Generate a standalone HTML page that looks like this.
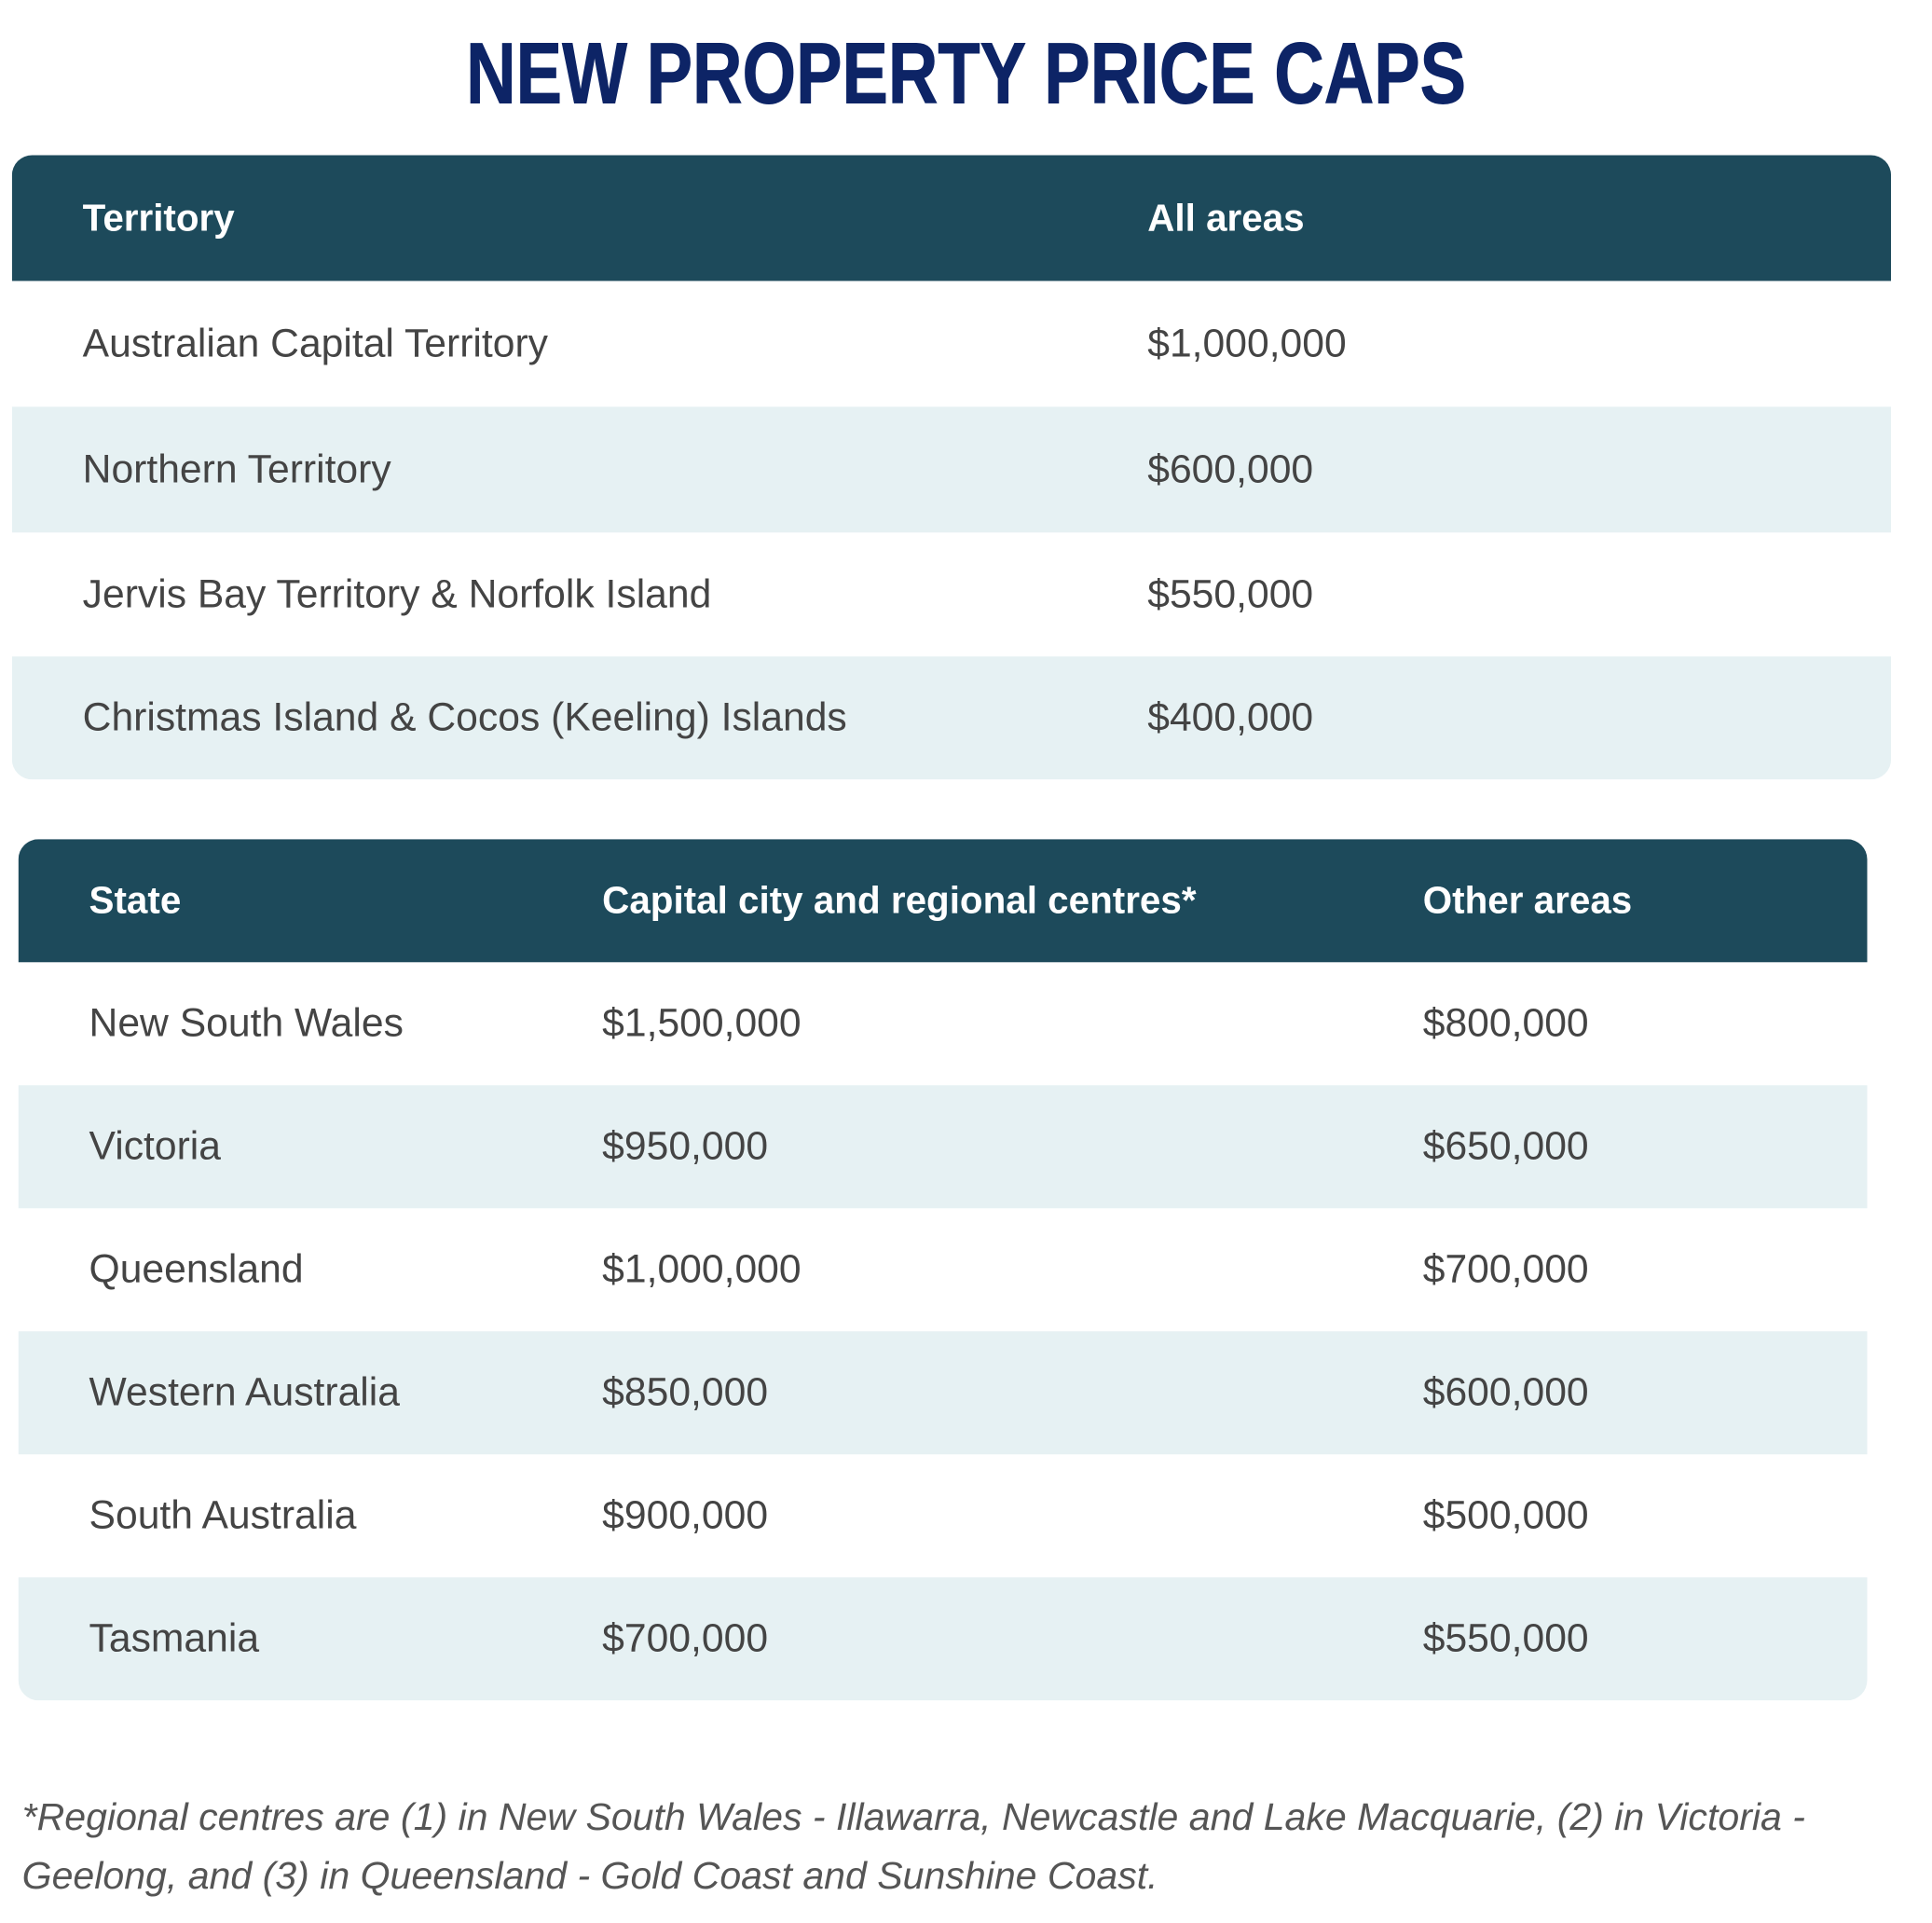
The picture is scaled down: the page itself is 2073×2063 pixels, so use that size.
<!DOCTYPE html>
<html><head><meta charset="utf-8"><style>
body{margin:0;width:2073px;height:2062px;background:#fff;position:relative;font-family:"Liberation Sans",sans-serif;overflow:hidden}
#w{position:absolute;left:0;top:0;width:2105px;height:2094px;transform:scale(0.985);transform-origin:0 0}
.title{position:absolute;left:0;width:2105px;top:32px;text-align:center;font-weight:bold;font-size:94px;color:#0d2466;line-height:96px;transform:scaleX(0.8);transform-origin:1052px 0;-webkit-text-stroke:1px #0d2466}
.tbl{position:absolute;border-radius:22px;overflow:hidden;background:#fff}
.row{position:relative;display:block}
.row div{position:absolute;top:50%;transform:translateY(-50%);white-space:nowrap;font-size:43.3px;color:#444}
.hd{background:#1d4a5b}
.hd div{color:#fff;font-weight:bold;font-size:41px!important}
.st{background:#e6f1f3}
.foot{position:absolute;left:24px;font-style:italic;font-size:41.7px;color:#555;white-space:nowrap}
</style></head><body><div id="w">
<div class="title">NEW PROPERTY PRICE CAPS</div>

<div class="tbl" style="left:13px;top:169px;width:2047px;height:680px">
 <div class="row hd" style="height:137px"><div style="left:77px">Territory</div><div style="left:1237px">All areas</div></div>
 <div class="row" style="height:137px"><div style="left:77px">Australian Capital Territory</div><div style="left:1237px">$1,000,000</div></div>
 <div class="row st" style="height:137px"><div style="left:77px">Northern Territory</div><div style="left:1237px">$600,000</div></div>
 <div class="row" style="height:135px"><div style="left:77px">Jervis Bay Territory &amp; Norfolk Island</div><div style="left:1237px">$550,000</div></div>
 <div class="row st" style="height:134px"><div style="left:77px">Christmas Island &amp; Cocos (Keeling) Islands</div><div style="left:1237px">$400,000</div></div>
</div>

<div class="tbl" style="left:20px;top:914px;width:2014px;height:938px">
 <div class="row hd" style="height:134px"><div style="left:77px">State</div><div style="left:636px">Capital city and regional centres*</div><div style="left:1530px">Other areas</div></div>
 <div class="row" style="height:134px"><div style="left:77px">New South Wales</div><div style="left:636px">$1,500,000</div><div style="left:1530px">$800,000</div></div>
 <div class="row st" style="height:134px"><div style="left:77px">Victoria</div><div style="left:636px">$950,000</div><div style="left:1530px">$650,000</div></div>
 <div class="row" style="height:134px"><div style="left:77px">Queensland</div><div style="left:636px">$1,000,000</div><div style="left:1530px">$700,000</div></div>
 <div class="row st" style="height:134px"><div style="left:77px">Western Australia</div><div style="left:636px">$850,000</div><div style="left:1530px">$600,000</div></div>
 <div class="row" style="height:134px"><div style="left:77px">South Australia</div><div style="left:636px">$900,000</div><div style="left:1530px">$500,000</div></div>
 <div class="row st" style="height:134px"><div style="left:77px">Tasmania</div><div style="left:636px">$700,000</div><div style="left:1530px">$550,000</div></div>
</div>

<div class="foot" style="top:1955px">*Regional centres are (1) in New South Wales - Illawarra, Newcastle and Lake Macquarie, (2) in Victoria -</div>
<div class="foot" style="top:2019px">Geelong, and (3) in Queensland - Gold Coast and Sunshine Coast.</div>
</div></body></html>
